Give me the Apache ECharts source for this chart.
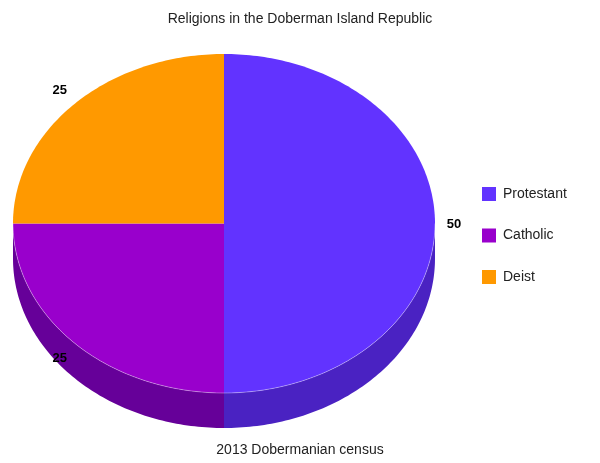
<!DOCTYPE html>
<html>
<head>
<meta charset="utf-8">
<script src="https://cdn.jsdelivr.net/npm/echarts@6/dist/echarts.min.js"></script>
<style>
html,body{margin:0;padding:0;background:#fff;}
#main{width:600px;height:463px;}
</style>
</head>
<body>
<div id="main"></div>
<script>
const categories = ['Protestant', 'Catholic', 'Deist'];
const values = [50, 25, 25];
const topColors = ['#6233ff', '#9900cc', '#ff9900'];
const sideColors = ['#4a22c2', '#660099', '#b36b00'];
const titleText = 'Religions in the Doberman Island Republic';
const footerText = '2013 Dobermanian census';

const geo = { cx: 224, cy: 223.5, rx: 211, ry: 169.5, depth: 35 };
const FONT = '"Liberation Sans", Arial, sans-serif';

function pt(theta, dy) {
  const r = theta * Math.PI / 180;
  return [geo.cx + geo.rx * Math.sin(r), geo.cy - geo.ry * Math.cos(r) + (dy || 0)];
}
function arc(a, b, dy) {
  const pts = [];
  const steps = Math.max(2, Math.ceil(Math.abs(b - a)));
  for (let k = 0; k <= steps; k++) pts.push(pt(a + (b - a) * k / steps, dy));
  return pts;
}

function makeRender(i) {
  return function (params, api) {
    const total = values.reduce((s, v) => s + v, 0);
    let before = 0;
    for (let j = 0; j < i; j++) before += values[j];
    const v = api.value(0);
    const start = before / total * 360;
    const end = start + v / total * 360;
    const children = [];
    const a = Math.max(start, 90), b = Math.min(end, 270);
    if (a < b) {
      const side = arc(a, b, 0).concat(arc(b, a, geo.depth));
      children.push({ type: 'polygon', shape: { points: side }, style: { fill: sideColors[i] } });
    }
    const top = [[geo.cx, geo.cy]].concat(arc(start, end, 0));
    children.push({ type: 'polygon', shape: { points: top }, style: { fill: topColors[i] } });
    if (a < b) {
      children.push({ type: 'polyline', shape: { points: arc(a, b, 0) },
        style: { stroke: 'rgba(255,255,255,0.35)', lineWidth: 1, fill: null } });
    }
    const mid = (start + end) / 2 * Math.PI / 180;
    const lx = geo.cx + (geo.rx + 20) * Math.sin(mid) - 1;
    const ly = geo.cy - (geo.ry + 20) * Math.cos(mid) + 1;
    children.push({ type: 'text', x: lx, y: ly,
      style: { text: String(v), fill: '#000', font: 'bold 13px ' + FONT, align: 'center', verticalAlign: 'middle' } });
    return { type: 'group', children: children };
  };
}

const series = categories.map((name, i) => ({
  type: 'custom',
  name: name,
  coordinateSystem: 'none',
  silent: true,
  itemStyle: { color: topColors[i] },
  data: [[values[i]]],
  renderItem: makeRender(i)
}));

const chart = echarts.init(document.getElementById('main'), null, { renderer: 'canvas' });
chart.setOption({
  animation: false,
  backgroundColor: '#fff',
  title: [
    { text: titleText, left: 'center', top: 6,
      textStyle: { fontFamily: FONT, fontSize: 14, fontWeight: 'normal', color: '#222', lineHeight: 16 } },
    { text: footerText, left: 'center', top: 437,
      textStyle: { fontFamily: FONT, fontSize: 14, fontWeight: 'normal', color: '#222', lineHeight: 16 } }
  ],
  legend: {
    orient: 'vertical', left: 477, top: 182,
    icon: 'rect', itemWidth: 14, itemHeight: 14, itemGap: 27.5,
    selectedMode: false,
    textStyle: { fontFamily: FONT, fontSize: 14, color: '#222', lineHeight: 14, padding: [0, 0, 0, 2] },
    data: categories
  },
  series: series
});
</script>
</body>
</html>
